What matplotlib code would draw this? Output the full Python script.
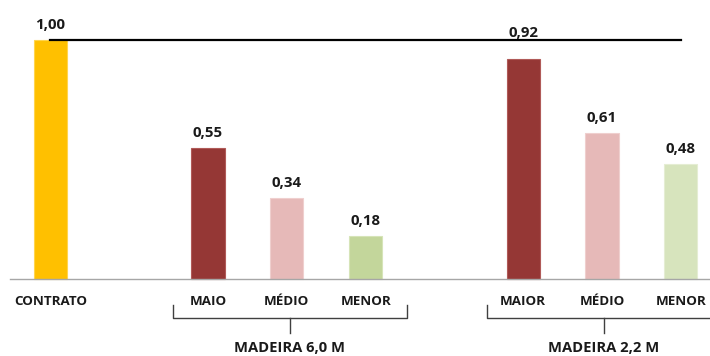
import matplotlib.pyplot as plt

plt.rcParams['font.family'] = ['Open Sans', 'DejaVu Sans']

# bar data
categories = ["CONTRATO", "MAIO", "MÉDIO", "MENOR", "MAIOR", "MÉDIO", "MENOR"]
values = [1.00, 0.55, 0.34, 0.18, 0.92, 0.61, 0.48]
slots = [0, 2, 3, 4, 6, 7, 8]
colors = ["#FFC000", "#953735", "#E6B9B8", "#C3D69B", "#953735", "#E6B9B8", "#D7E4BD"]
edge_colors = ["#FFD54F", "#B05A58", "#EFCFCE", "#D6E4B8", "#B05A58", "#EFCFCE", "#E5EDD3"]
groups = ["MADEIRA 6,0 M", "MADEIRA 2,2 M"]
group_spans = [(1.56, 4.52), (5.54, 8.5)]
reference = 1.00

fig = plt.figure(figsize=(7.1, 3.56), dpi=100)
ax = fig.add_axes([0, 0, 1, 1])
ax.set_xlim(-0.64, 8.37)
ax.set_ylim(-0.322, 1.167)
ax.axis('off')

ax.bar(slots, values, width=0.42, color=colors, edgecolor=edge_colors, linewidth=0.8, zorder=2)

# baseline
ax.plot([-0.51, 8.37], [0, 0], color='#A6A6A6', linewidth=1.0, zorder=3)

# contract reference line
ax.plot([0, 8], [reference, reference], color='black', linewidth=1.6, zorder=4)

# value labels (0,92 sits up on the reference line)
for s, v in zip(slots, values):
    dy = 0.11 if v == 0.92 else 0.062
    ax.text(s, v + dy, f"{v:.2f}".replace('.', ','), ha='center', va='center',
            fontsize=10.8, fontweight='bold', color='#1a1a1a', zorder=5)

# category labels
for s, c in zip(slots, categories):
    ax.text(s, -0.092, c, ha='center', va='center', fontsize=9.6,
            fontweight='bold', color='#1a1a1a')

# group brackets
for (x0, x1), g in zip(group_spans, groups):
    xm = (x0 + x1) / 2
    ax.plot([x0, x0, x1, x1], [-0.109, -0.163, -0.163, -0.109],
            color='#404040', linewidth=1.0, clip_on=False)
    ax.plot([xm, xm], [-0.163, -0.226], color='#404040', linewidth=1.0)
    ax.text(xm, -0.289, g, ha='center', va='center', fontsize=10.6,
            fontweight='bold', color='#1a1a1a')

fig.savefig("out.png", dpi=100)
